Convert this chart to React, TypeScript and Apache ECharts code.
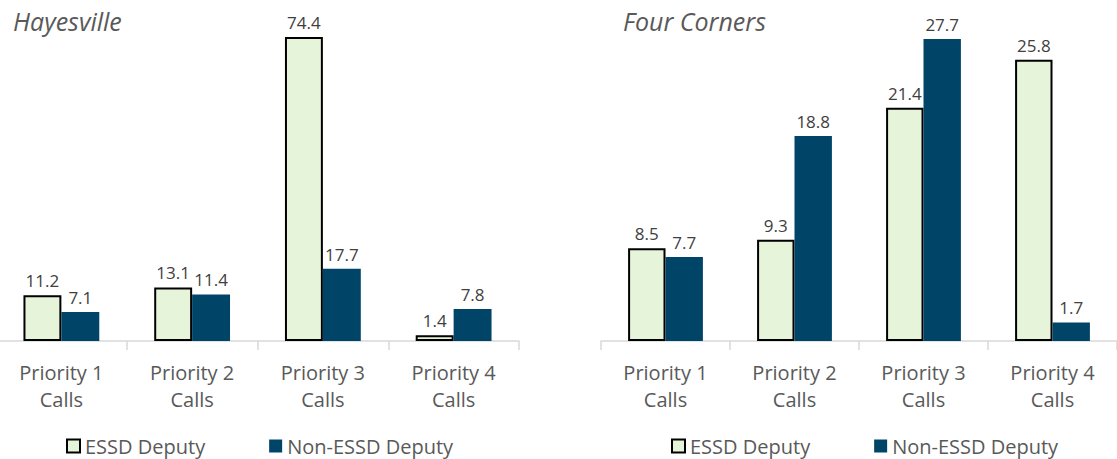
import React, { useEffect, useRef } from "react";
import * as echarts from "echarts";

const categories = ["Priority 1\nCalls", "Priority 2\nCalls", "Priority 3\nCalls", "Priority 4\nCalls"];
const hayesvilleEssd = [11.2, 13.1, 74.4, 1.4];
const hayesvilleNon = [7.1, 11.4, 17.7, 7.8];
const fourCornersEssd = [8.5, 9.3, 21.4, 25.8];
const fourCornersNon = [7.7, 18.8, 27.7, 1.7];
const titles = ["Hayesville", "Four Corners"];
const seriesNames = ["ESSD Deputy", "Non-ESSD Deputy"];

const FONT = "'Open Sans', 'Noto Sans', sans-serif";
const ESSD_COLOR = "#E6F4DA";
const NON_COLOR = "#004468";
const SHIFT = 4;

export default function App() {
  const ref = useRef<HTMLDivElement>(null);
  useEffect(() => {
    if (!ref.current) return;
    const chart = echarts.init(ref.current, undefined, { renderer: "svg" });
    const label = {
      show: true,
      position: "top" as const,
      distance: 6,
      fontFamily: FONT,
      fontSize: 17,
      color: "#404040",
      formatter: (p: any) => Number(p.value).toFixed(1),
    };
    const xAxis = (gridIndex: number) => ({
      type: "category" as const,
      gridIndex,
      data: categories,
      axisLine: { lineStyle: { color: "#D9D9D9", width: 1.5 } },
      axisTick: { show: true, length: 9, lineStyle: { color: "#D9D9D9", width: 1.5 } },
      axisLabel: {
        interval: 0,
        margin: 18,
        fontFamily: FONT,
        fontSize: 20,
        lineHeight: 27,
        color: "#595959",
      },
    });
    const yAxis = (gridIndex: number, max: number) => ({
      type: "value" as const,
      gridIndex,
      min: 0,
      max,
      show: false,
      splitLine: { show: false },
    });
    const essdStyle = { color: ESSD_COLOR, borderColor: "#000000", borderWidth: 2 };
    const nonStyle = { color: NON_COLOR };
    const titleStyle = { fontFamily: FONT, fontSize: 25, fontStyle: "italic" as const, fontWeight: "normal" as const, color: "#595959" };
    const legendBase = {
      data: seriesNames,
      top: 436,
      padding: 0,
      icon: "rect",
      itemWidth: 13,
      itemHeight: 13,
      itemGap: 64,
      textStyle: { fontFamily: FONT, fontSize: 20, lineHeight: 20, color: "#595959" },
    };
    chart.setOption({
      animation: false,
      title: [
        { text: titles[0], left: 8 + SHIFT, top: 3, textStyle: titleStyle },
        { text: titles[1], left: 618 + SHIFT, top: 3, textStyle: titleStyle },
      ],
      legend: [
        { ...legendBase, left: 66 + SHIFT },
        { ...legendBase, left: 671 + SHIFT },
      ],
      grid: [
        { left: 0, width: 523, top: 14, height: 327 },
        { left: 601 + SHIFT, width: 524, top: 14, height: 327 },
      ],
      xAxis: [xAxis(0), xAxis(1)],
      yAxis: [yAxis(0, 80), yAxis(1, 30)],
      series: [
        {
          name: seriesNames[0],
          type: "bar",
          xAxisIndex: 0,
          yAxisIndex: 0,
          data: hayesvilleEssd,
          barGap: "0%",
          barCategoryGap: "42%",
          itemStyle: essdStyle,
          label,
        },
        {
          name: seriesNames[1],
          type: "bar",
          xAxisIndex: 0,
          yAxisIndex: 0,
          data: hayesvilleNon,
          barGap: "0%",
          barCategoryGap: "42%",
          itemStyle: nonStyle,
          label,
        },
        {
          name: seriesNames[0],
          type: "bar",
          xAxisIndex: 1,
          yAxisIndex: 1,
          data: fourCornersEssd,
          barGap: "0%",
          barCategoryGap: "42%",
          itemStyle: essdStyle,
          label,
        },
        {
          name: seriesNames[1],
          type: "bar",
          xAxisIndex: 1,
          yAxisIndex: 1,
          data: fourCornersNon,
          barGap: "0%",
          barCategoryGap: "42%",
          itemStyle: nonStyle,
          label,
        },
      ],
    });
    return () => chart.dispose();
  }, []);
  return (
    <div style={{ position: "absolute", left: 0, top: 0, width: 1117, height: 459, overflow: "hidden", background: "#ffffff" }}>
      <div
        ref={ref}
        style={{ position: "absolute", left: -SHIFT, top: 0, width: 1117 + SHIFT, height: 459 }}
      />
    </div>
  );
}
